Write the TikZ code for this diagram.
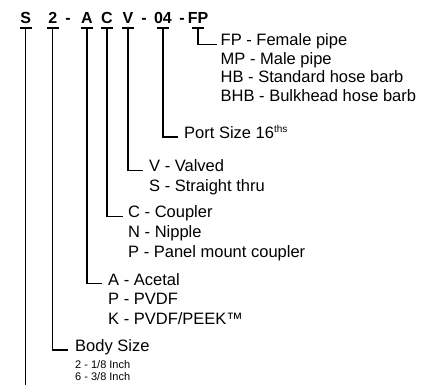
\documentclass[tikz,border=0pt]{standalone}
\usepackage{fontspec}
\setmainfont{Liberation Sans}
\usetikzlibrary{positioning}

\begin{document}
\begin{tikzpicture}[x=1pt, y=-1pt,
    code/.style={font=\fontsize{16}{18}\selectfont\bfseries, anchor=base, inner sep=0pt},
    desc/.style={font=\fontsize{16.5}{18}\selectfont, anchor=base west, inner sep=0pt},
    small/.style={font=\fontsize{11}{12}\selectfont, anchor=base west, inner sep=0pt},
    conn/.style={line width=1.2pt, black}
  ]
  \useasboundingbox (0,0) rectangle (437,385);
  % part number
  \node[code] (s) at (25.7,24) {S};
  \node[code] (sz) at (52.7,24) {2};
  \node[code] (h1) at (68,24) {-};
  \node[code] (mat) at (87,24) {A};
  \node[code] (typ) at (107,24) {C};
  \node[code] (vlv) at (128,24) {V};
  \node[code] (h2) at (144,24) {-};
  \node[code] (port) at (163,24) {04};
  \node[code] (h3) at (182,24) {-};
  \node[code] (end) at (198,24) {FP};
  \foreach \c in {s, sz, mat, typ, vlv, port, end}
    \coordinate (\c T) at (\c |- 0,28);
  % descriptions
  \node[desc] (fp1) at (220.5,46) {FP - Female pipe};
  \node[desc] (fp2) at ([yshift=-18.5pt]fp1.base west) {MP - Male pipe};
  \node[desc] (fp3) at ([yshift=-18.5pt]fp2.base west) {HB - Standard hose barb};
  \node[desc] (fp4) at ([yshift=-18.5pt]fp3.base west) {BHB - Bulkhead hose barb};
  \node[desc] (ps) at (184,138.5) {Port Size 16\raisebox{5.5pt}{\fontsize{10}{10}\selectfont ths}};
  \node[desc] (v1) at (149,172) {V - Valved};
  \node[desc] (v2) at ([yshift=-19.5pt]v1.base west) {S - Straight thru};
  \node[desc] (c1) at (128,218) {C - Coupler};
  \node[desc] (c2) at ([yshift=-20pt]c1.base west) {N - Nipple};
  \node[desc] (c3) at ([yshift=-20pt]c2.base west) {P - Panel mount coupler};
  \node[desc] (a1) at (108,285) {A - Acetal};
  \node[desc] (a2) at ([yshift=-19.5pt]a1.base west) {P - PVDF};
  \node[desc] (a3) at ([yshift=-19.5pt]a2.base west) {K - PVDF/PEEK™};
  \node[desc] (bs) at (75,351.5) {Body Size};
  \node[small] (bs1) at ([yshift=-16.5pt]bs.base west) {2 - 1/8 Inch};
  \node[small] (bs2) at ([yshift=-12.5pt]bs1.base west) {6 - 3/8 Inch};
  % connectors
  \foreach \c in {s, sz, mat, typ, vlv, port, end}
    \draw[conn] ([xshift=-6pt]\c T) -- ([xshift=6pt]\c T);
  \draw[conn] (sT) -- (sT |- 0,385);
  \draw[conn] (endT) |- ([xshift=-4pt, yshift=1.5pt]fp1.base west);
  \draw[conn] (portT) |- ([xshift=-6pt, yshift=1.5pt]ps.base west);
  \draw[conn] (vlvT) |- ([xshift=-6pt, yshift=1.5pt]v1.base west);
  \draw[conn] (typT) |- ([xshift=-5pt, yshift=1.5pt]c1.base west);
  \draw[conn] (matT) |- ([xshift=-6pt, yshift=1.5pt]a1.base west);
  \draw[conn] (szT) |- ([xshift=-7pt, yshift=1.5pt]bs.base west);
\end{tikzpicture}
\end{document}
